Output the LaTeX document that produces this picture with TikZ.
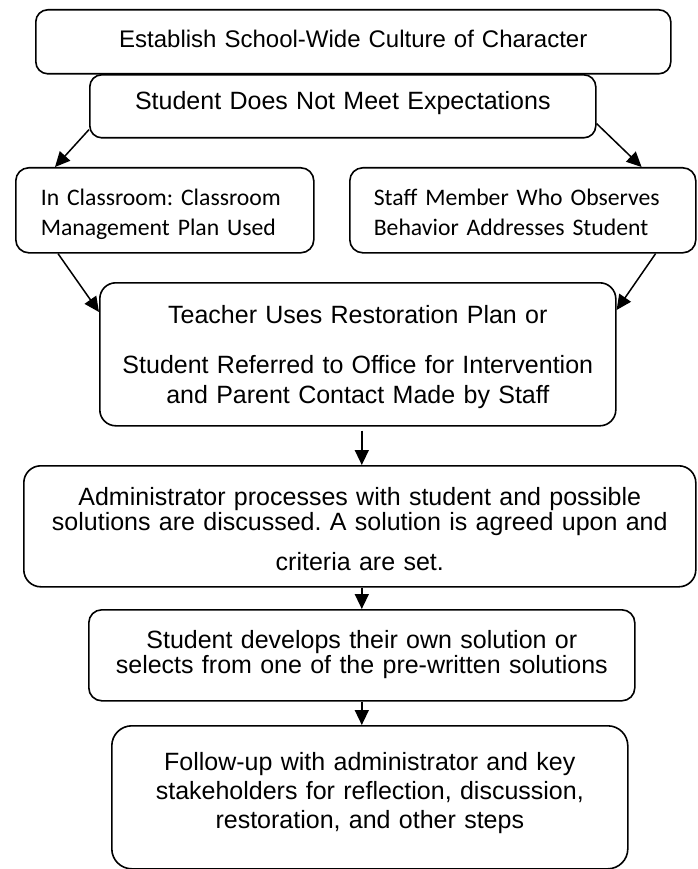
\documentclass[tikz,border=0pt]{standalone}
\usepackage{fontspec}
\setmainfont{Liberation Sans}
\newfontfamily\carlito{Carlito}
\usepackage{tikz}
\usetikzlibrary{arrows.meta}
\frenchspacing

\begin{document}
\begin{tikzpicture}[x=1pt,y=-1pt,
    stage/.style={draw, line width=1.6pt, rounded corners=13pt, anchor=north west,
        inner xsep=0pt, inner ysep=0pt, align=center,
        font=\fontsize{25}{30}\selectfont},
    sidebox/.style={stage, align=left, font=\carlito\fontsize{23.7}{30}\selectfont},
    flow/.style={line width=1.5pt, -{Triangle[length=15pt,width=14pt]}}]
            \useasboundingbox (0,0) rectangle (697,869);

            \node[stage, rounded corners=12pt, text width=635pt, text height=38pt, text depth=26pt,
                font=\fontsize{24}{30}\selectfont] (culture) at (35,9)
                {Establish School-Wide Culture of Character};
            \node[stage, rounded corners=12pt, text width=506pt, text height=35pt, text depth=28pt] (misbehave) at (89,74)
                {Student Does Not Meet Expectations};

            \node[sidebox, inner xsep=25pt, text width=248pt, text height=38pt, text depth=47pt] (classroom) at (15,167)
                {In Classroom: Classroom\\Management Plan Used};
            \node[sidebox, inner xsep=24pt, text width=298pt, text height=38pt, text depth=47pt] (observer) at (349,167)
                {Staff Member Who Observes\\Behavior Addresses Student};

            \node[stage, rounded corners=16pt, text width=516pt, text height=41pt, text depth=102pt] (restore) at (99,282)
                {Teacher Uses Restoration Plan or\\[20pt]Student Referred to Office for Intervention\\and Parent Contact Made by Staff};
            \node[stage, rounded corners=17pt, text width=672pt, text height=40pt, text depth=81pt,
                font=\fontsize{25}{23}\selectfont] (process) at (23,465)
                {Administrator processes with student and possible\\solutions are discussed. A solution is agreed upon and\\[16pt]criteria are set.};
            \node[stage, text width=546pt, text height=39pt, text depth=52pt,
                font=\fontsize{25}{22}\selectfont] (solution) at (88,609)
                {Student develops their own solution or\\selects from one of the pre-written solutions};
            \node[stage, rounded corners=20pt, text width=516pt, text height=45pt, text depth=98pt,
                font=\fontsize{25}{29}\selectfont] (followup) at (111,725)
                {Follow-up with administrator and key\\stakeholders for reflection, discussion,\\restoration, and other steps};

            \draw[flow] ([yshift=9pt]misbehave.south west) -- ([xshift=40pt]classroom.north west);
            \draw[flow] ([yshift=15pt]misbehave.south east) -- ([xshift=-55pt]observer.north east);
            \draw[flow] ([xshift=43pt]classroom.south west) -- ([yshift=-30pt]restore.north west);
            \draw[flow] ([xshift=-41pt]observer.south east) -- ([yshift=-28pt]restore.north east);

            \draw[flow] ([xshift=4pt,yshift=-4pt]restore.south) -- ([xshift=2pt]process.north);
            \draw[flow] ([xshift=2pt]process.south) -- (solution.north);
            \draw[flow] (solution.south) -- ([xshift=-8pt]followup.north);

        \end{tikzpicture}
\end{document}
